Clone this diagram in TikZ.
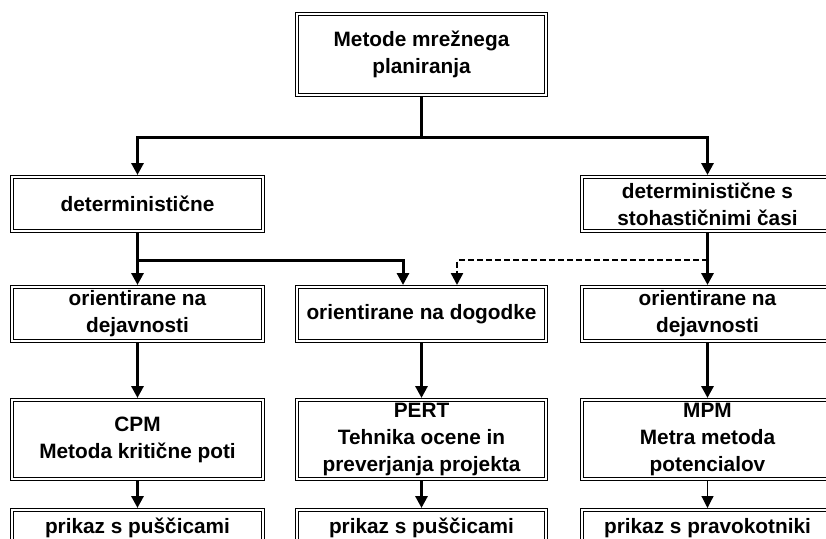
\documentclass[tikz,border=0pt]{standalone}
\usepackage{fontspec}
\setmainfont{Liberation Sans}
\usetikzlibrary{arrows.meta}
\begin{document}
\begin{tikzpicture}[x=1pt,y=-1pt,
  box/.style={draw, double, double distance=1.5pt, line width=1.1pt, inner sep=0pt,
    outer sep=1.85pt, align=center, font=\fontsize{20.8}{27}\selectfont\bfseries,
    minimum width=251.3pt},
  conn/.style={line width=3pt},
  arr/.style={conn, -{Triangle[length=12pt,width=12pt]}},
  dsh/.style={line width=2.4pt, dash pattern=on 6pt off 3pt, -{Triangle[length=12pt,width=12pt]}},
]
\useasboundingbox (0,0) rectangle (826,538);
\clip (0,0) rectangle (826,538);
% row 1
\node[box, minimum width=249.3pt, minimum height=81.3pt] (top) at (421.5,54.5) {Metode mrežnega\\planiranja};
% row 2
\node[box, minimum height=54.3pt] (det) at (137.5,204) {deterministične};
\node[box, minimum height=54.3pt] (sto) at (707.5,204) {deterministične s\\stohastičnimi časi};
% row 3
\node[box, minimum height=54.3pt] (or1) at (137.5,314) {orientirane na\\dejavnosti};
\node[box, minimum width=249.3pt, minimum height=54.3pt] (or2) at (421.5,314) {orientirane na dogodke};
\node[box, minimum height=54.3pt] (or3) at (707.5,314) {orientirane na\\dejavnosti};
% row 4
\node[box, minimum height=79.3pt] (m1) at (137.5,439.5) {CPM\\Metoda kritične poti};
\node[box, minimum width=249.3pt, minimum height=79.3pt] (m2) at (421.5,439.5) {PERT\\Tehnika ocene in\\preverjanja projekta};
\node[box, minimum height=79.3pt] (m3) at (707.5,439.5) {MPM\\Metra metoda\\potencialov};
% row 5
\node[box, minimum height=36.3pt] (p1) at (137.5,528) {prikaz s puščicami};
\node[box, minimum width=249.3pt, minimum height=36.3pt] (p2) at (421.5,528) {prikaz s puščicami};
\node[box, minimum height=36.3pt] (p3) at (707.5,528) {prikaz s pravokotniki};
% junctions
\coordinate (j1) at (421.5,137);
\coordinate (j2) at (137.5,260);
\coordinate (j3) at (707.5,260);
% connectors
\draw[conn] (top) -- (j1);
\draw[arr] (j1) -| (det);
\draw[arr] (j1) -| (sto);
\draw[conn] (det) -- (j2);
\draw[arr] (j2) -- (or1);
\draw[arr] (j2) -| ([xshift=-18.5pt]or2.north);
\draw[arr] (sto) -- (or3);
\draw[dsh] (j3) -| ([xshift=35.5pt]or2.north);
\draw[arr] (or1) -- (m1);
\draw[arr] (or2) -- (m2);
\draw[arr] (or3) -- (m3);
\draw[arr] (m1) -- (p1);
\draw[arr] (m2) -- (p2);
\draw[arr, line width=1.2pt] (m3) -- (p3);
\end{tikzpicture}
\end{document}
